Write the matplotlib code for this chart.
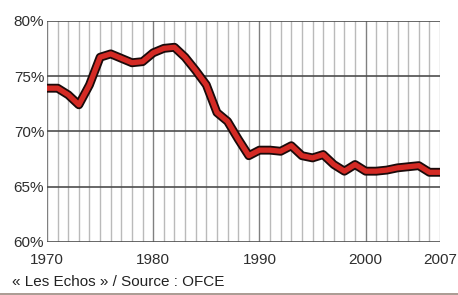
import matplotlib
matplotlib.use("Agg")
import matplotlib.pyplot as plt
import matplotlib.patheffects as pe
from matplotlib.lines import Line2D

years = list(range(1970, 2008))
share = [73.9, 73.9, 73.3, 72.4, 74.2, 76.7, 77.0, 76.6, 76.2, 76.3,
         77.1, 77.5, 77.6, 76.7, 75.5, 74.2, 71.7, 70.9, 69.3, 67.8,
         68.3, 68.3, 68.2, 68.7, 67.8, 67.6, 67.9, 67.0, 66.4, 67.0,
         66.4, 66.4, 66.5, 66.7, 66.8, 66.9, 66.3, 66.3]
y_ticks = [60, 65, 70, 75, 80]
y_labels = ["60%", "65%", "70%", "75%", "80%"]
x_ticks = [1970, 1980, 1990, 2000, 2007]
source = "« Les Echos » / Source : OFCE"


def main():
    plt.rcParams["font.family"] = ["Liberation Sans", "DejaVu Sans"]
    fig = plt.figure(figsize=(4.58, 2.95), dpi=100)
    ax = fig.add_axes([0.1026, 0.1797, 0.8581, 0.7501])

    # yearly vertical grid, decades a bit darker
    for yr in years:
        col = "#808080" if yr % 10 == 0 else "#bababa"
        ax.axvline(yr, color=col, lw=1.0, zorder=1)
    for v in y_ticks:
        ax.axhline(v, color="#4e4e4e", lw=1.2, zorder=2)

    ax.plot(years, share, color="#d42a24", lw=3.8, zorder=5,
            solid_joinstyle="round", solid_capstyle="butt",
            path_effects=[pe.Stroke(linewidth=6.4, foreground="#1a0a0a"),
                          pe.Normal()])

    ax.set_xlim(1970, 2007)
    ax.set_ylim(60, 80)
    ax.set_yticks(y_ticks)
    ax.set_yticklabels(y_labels)
    ax.set_xticks(x_ticks)
    ax.set_xticklabels([str(t) for t in x_ticks])
    ax.tick_params(length=0, labelsize=11, colors="#2e2e2e", pad=2)
    ax.tick_params(axis="x", pad=8)
    for s in ax.spines.values():
        s.set_visible(False)

    fig.text(0.026, 0.045, source, fontsize=11, color="#222222",
             va="center", ha="left")
    fig.add_artist(Line2D([0, 1], [0.004, 0.004], color="#9c8a80", lw=1.2,
                          transform=fig.transFigure))
    fig.savefig("out.png", dpi=100, facecolor="white")


if __name__ == "__main__":
    main()
